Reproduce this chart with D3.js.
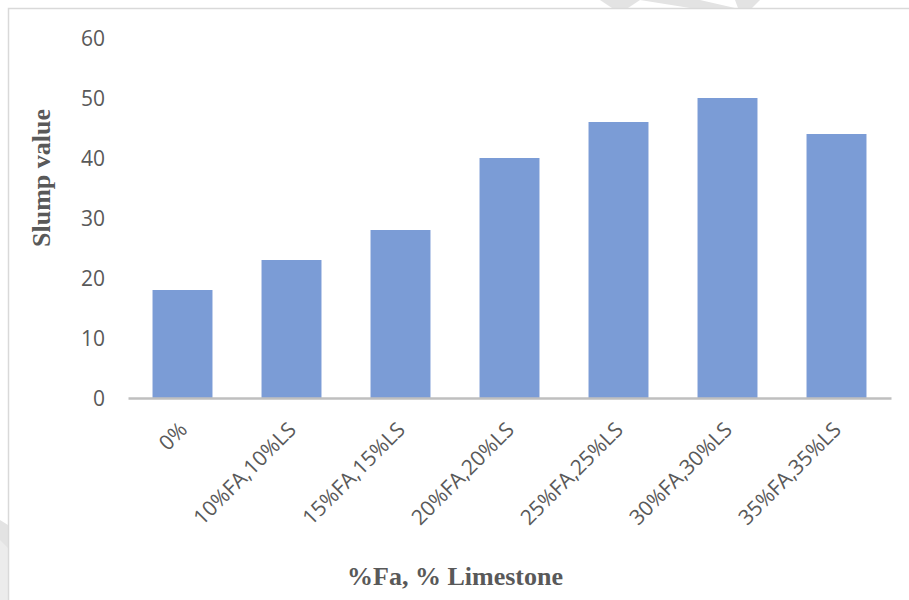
<!DOCTYPE html>
<html>
<head>
<meta charset="utf-8">
<script src="https://cdn.jsdelivr.net/npm/d3@7"></script>
<style>
  html, body { margin: 0; padding: 0; background: #fff; }
  svg { display: block; }
</style>
</head>
<body>
<svg id="chart" width="909" height="600"></svg>
<script>
const categories = ["0%", "10%FA,10%LS", "15%FA,15%LS", "20%FA,20%LS", "25%FA,25%LS", "30%FA,30%LS", "35%FA,35%LS"];
const slumpValues = [18, 23, 28, 40, 46, 50, 44];
const yTicks = [0, 10, 20, 30, 40, 50, 60];
const yTitle = "Slump value";
const xTitle = "%Fa, % Limestone";

const svg = d3.select("#chart");
const W = 909, H = 600;
const margin = { left: 128, right: 18, top: 38, bottom: 202 };

// faint watermark fragments outside frame
const wm = svg.append("g").attr("fill", "#e3e3e3");
wm.append("path").attr("d", "M600,0 L640,0 L628,8 L612,8 Z");
wm.append("path").attr("d", "M640,0 L700,0 L735,8 L690,8 Z");
wm.append("path").attr("d", "M735,0 L760,0 L752,8 L738,8 Z");
wm.append("path").attr("d", "M0,520 L8,525 L8,560 L0,552 Z");
wm.append("path").attr("d", "M0,540 L8,548 L8,600 L0,600 Z").attr("fill", "#ececec");

// chart frame
svg.append("path")
  .attr("d", `M8.5,${H} L8.5,8.5 L${W},8.5`)
  .attr("fill", "none")
  .attr("stroke", "#d9d9d9")
  .attr("stroke-width", 1.5);

const x = d3.scaleBand()
  .domain(categories)
  .range([margin.left, W - margin.right])
  .paddingInner(0.45)
  .paddingOuter(0.225);

const y = d3.scaleLinear()
  .domain([0, 60])
  .range([H - margin.bottom, margin.top]);

// bars
svg.append("g").selectAll("rect")
  .data(slumpValues)
  .join("rect")
  .attr("x", (d, i) => x(categories[i]))
  .attr("y", d => y(d))
  .attr("width", x.bandwidth())
  .attr("height", d => y(0) - y(d))
  .attr("fill", "#7b9cd6");

// y axis (labels only)
const yAxis = d3.axisLeft(y).tickValues(yTicks).tickSize(0).tickPadding(0);
const gy = svg.append("g")
  .attr("transform", `translate(${margin.left - 23},0)`)
  .call(yAxis);
gy.select(".domain").remove();
gy.selectAll("text")
  .attr("font-family", "'Open Sans', sans-serif")
  .attr("font-size", 21)
  .attr("fill", "#595959")
  .attr("dy", "0.36em");

// x axis
const xAxis = d3.axisBottom(x).tickSize(0).tickPadding(0);
const gx = svg.append("g")
  .attr("transform", `translate(0,${y(0)})`)
  .call(xAxis);
gx.select(".domain")
  .attr("stroke", "#bfbfbf")
  .attr("stroke-width", 2.5);
gx.selectAll(".tick text")
  .attr("font-family", "'Open Sans', sans-serif")
  .attr("font-size", 21)
  .attr("fill", "#595959")
  .attr("text-anchor", "end")
  .attr("dy", null)
  .attr("y", 0)
  .attr("transform", "translate(6,33) rotate(-45)");

// axis titles
svg.append("text")
  .attr("transform", `translate(50,178) rotate(-90)`)
  .attr("text-anchor", "middle")
  .attr("font-family", "'Liberation Serif', 'Times New Roman', serif")
  .attr("font-weight", "bold")
  .attr("font-size", 26)
  .attr("fill", "#595959")
  .text(yTitle);

svg.append("text")
  .attr("x", 455)
  .attr("y", 585)
  .attr("text-anchor", "middle")
  .attr("font-family", "'Liberation Serif', 'Times New Roman', serif")
  .attr("font-weight", "bold")
  .attr("font-size", 26)
  .attr("fill", "#595959")
  .text(xTitle);
</script>
</body>
</html>
